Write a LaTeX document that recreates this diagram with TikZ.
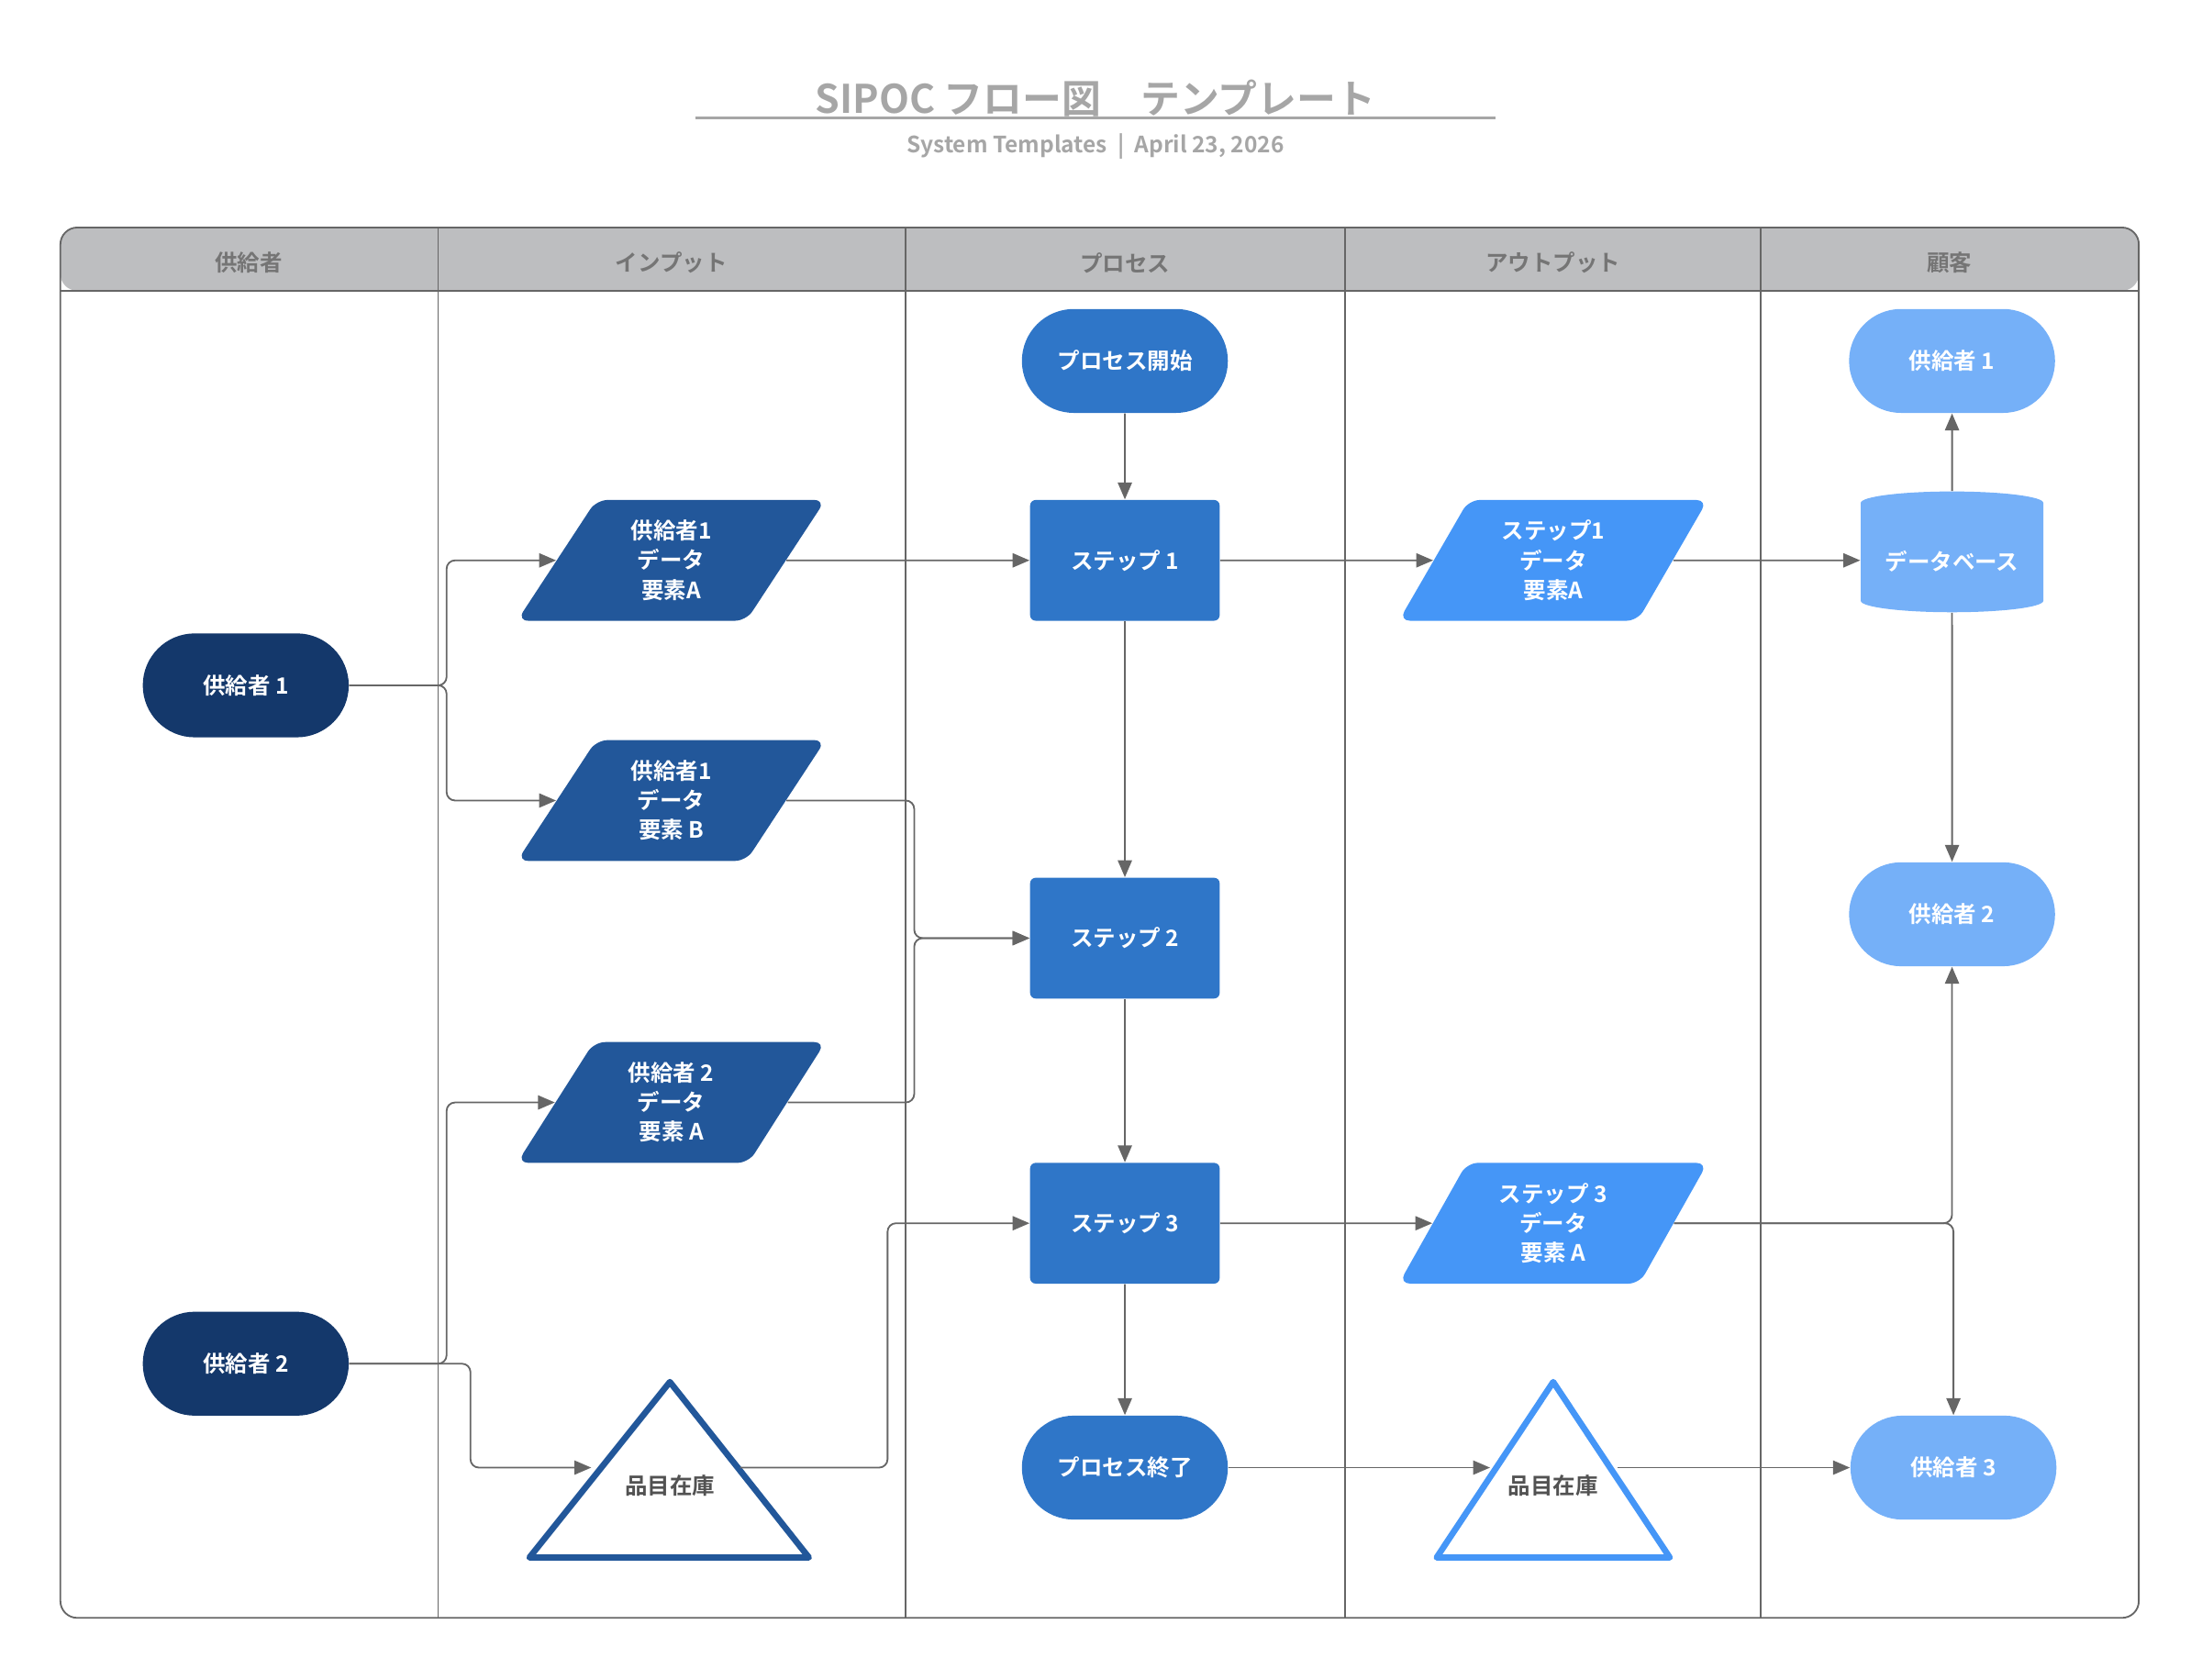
\documentclass[tikz,border=0pt]{standalone}
\usepackage{fontspec}
\setmainfont{Noto Sans CJK JP}[BoldFont={Noto Sans CJK JP Bold}]
\usetikzlibrary{shapes.geometric,shapes.misc,arrows.meta}
\definecolor{navy}{HTML}{14386B}
\definecolor{inblue}{HTML}{22579A}
\definecolor{pblue}{HTML}{2F76C8}
\definecolor{oblue}{HTML}{4596F7}
\definecolor{cblue}{HTML}{75B0F8}
\definecolor{hdr}{HTML}{BDBEC0}
\definecolor{ln}{HTML}{666666}
\begin{document}
\begin{tikzpicture}[x=0.5pt,y=-0.5pt,
 txt/.style={text=white,font=\bfseries\fontsize{8}{10.5}\selectfont,align=center},
 stad/.style={txt,rounded rectangle,minimum width=80pt,minimum height=37pt},
 stp/.style={txt,fill=pblue,rounded corners=2pt,minimum width=67.5pt,minimum height=43pt},
 para/.style={txt,trapezium,trapezium left angle=62,trapezium right angle=118,trapezium stretches=true,minimum width=110pt,minimum height=43pt,rounded corners=4pt,inner sep=0pt},
 con/.style={draw=ln,line width=0.6pt,-{Triangle[length=6pt,width=5pt]}},
 hd/.style={text=ln!90,font=\bfseries\fontsize{8}{10}\selectfont}
]
\useasboundingbox (0,0) rectangle (1568,1196);
% title
\node[text=gray!70,font=\bfseries\fontsize{14}{16}\selectfont] (title) at (780,70) {SIPOC フロー図　テンプレート};
\draw[gray!70,line width=1pt] (495,84) -- (1065,84);
\node[text=gray!70,font=\bfseries\fontsize{8}{10}\selectfont] (sub) at (780,104) {System Templates \ | \ April 23, 2026};
% table
\fill[hdr,rounded corners=6pt] (43,207) -- (43,162) -- (1523,162) -- (1523,207) -- cycle;
\draw[ln,line width=0.6pt,rounded corners=6pt] (43,162) rectangle (1523,1152);
\draw[ln,line width=0.6pt] (43,207) -- (1523,207);
\foreach \x in {312,645,958,1254} \draw[ln,line width=0.6pt] (\x,162) -- (\x,1152);
\node[hd] (h1) at (177,187) {供給者};
\node[hd] (h2) at (478,187) {インプット};
\node[hd] (h3) at (801,187) {プロセス};
\node[hd] (h4) at (1106,187) {アウトプット};
\node[hd] (h5) at (1388,187) {顧客};
% suppliers
\node[stad,fill=navy] (s1) at (175,488) {供給者 1};
\node[stad,fill=navy] (s2) at (175,971) {供給者 2};
% inputs
\node[para,fill=inblue] (i1) at (478,399) {供給者1\\データ\\要素A};
\node[para,fill=inblue] (i2) at (478,570) {供給者1\\データ\\要素 B};
\node[para,fill=inblue] (i3) at (478,785) {供給者 2\\データ\\要素 A};
\draw[inblue,line width=2.2pt,fill=white,line join=round] (477,984) -- (576,1109) -- (377,1109) -- cycle;
\node[text=ln!80!black,font=\bfseries\fontsize{8}{10}\selectfont] (t1) at (477,1058) {品目在庫};
\coordinate (t1w) at (421,1045); \coordinate (t1e) at (527,1045);
% process
\node[stad,fill=pblue] (ps) at (801,257) {プロセス開始};
\node[stp] (p1) at (801,399) {ステップ 1};
\node[stp] (p2) at (801,668) {ステップ 2};
\node[stp] (p3) at (801,871) {ステップ 3};
\node[stad,fill=pblue] (pe) at (801,1045) {プロセス終了};
% outputs
\node[para,fill=oblue] (o1) at (1106,399) {ステップ1\\データ\\要素A};
\node[para,fill=oblue] (o2) at (1106,871) {ステップ 3\\データ\\要素 A};
\draw[oblue,line width=2.2pt,fill=white,line join=round] (1106,984) -- (1189,1109) -- (1023,1109) -- cycle;
\node[text=ln!80!black,font=\bfseries\fontsize{8}{10}\selectfont] (t2) at (1106,1058) {品目在庫};
\coordinate (t2w) at (1061,1045); \coordinate (t2e) at (1152,1045);
% customers
\node[stad,fill=cblue] (c1) at (1390,257) {供給者 1};
\node[txt,cylinder,shape border rotate=90,aspect=0.15,fill=cblue,minimum width=65pt,minimum height=43pt,text depth=-8pt] (db) at (1390,399) {データベース};
\node[stad,fill=cblue] (c2) at (1390,651) {供給者 2};
\node[stad,fill=cblue] (c3) at (1391,1045) {供給者 3};
% connectors
\draw[con,rounded corners=3pt] (s1.east) -- (318,488) |- (i1.west);
\draw[con,rounded corners=3pt] (s1.east) -- (318,488) |- (i2.west);
\draw[con] (i1.east) -- (p1.west);
\draw[con,rounded corners=3pt] (i2.east) -- (651,570) |- (p2.west);
\draw[con,rounded corners=3pt] (i3.east) -- (651,785) |- (p2.west);
\draw[con,rounded corners=3pt] (s2.east) -- (318,971) |- (i3.west);
\draw[con,rounded corners=3pt] (s2.east) -- (335,971) |- (t1w);
\draw[con,rounded corners=3pt] (t1e) -- (632,1045) |- (p3.west);
\draw[con] (ps) -- (p1);
\draw[con] (p1) -- (p2);
\draw[con] (p2) -- (p3);
\draw[con] (p3) -- (pe);
\draw[con] (p1.east) -- (o1.west);
\draw[con] (o1.east) -- (db.west);
\draw[con] (db) -- (c1);
\draw[con] (db) -- (c2);
\draw[con] (p3.east) -- (o2.west);
\draw[con,rounded corners=3pt] (o2.east) -| (c2.south);
\draw[con,rounded corners=3pt] (o2.east) -| (c3.north);
\draw[con] (pe.east) -- (t2w);
\draw[con] (t2e) -- (c3.west);
\end{tikzpicture}
\end{document}
